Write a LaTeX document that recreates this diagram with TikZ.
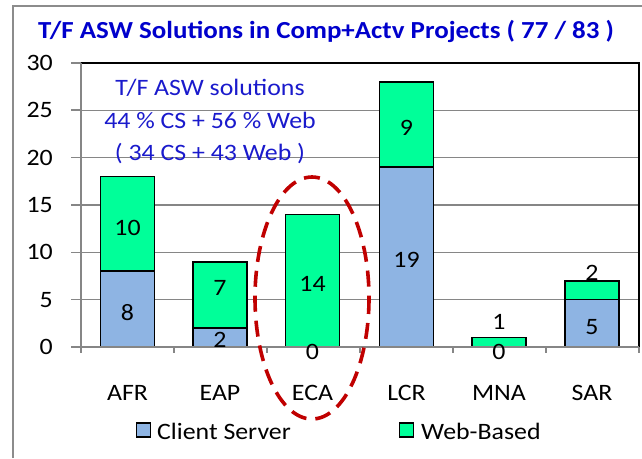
\documentclass[tikz,border=0pt]{standalone}
\usepackage{fontspec}
\setmainfont{Carlito}[FakeStretch=1.10]
\definecolor{csblue}{HTML}{8EB4E3}
\definecolor{webgreen}{HTML}{00FF99}
\definecolor{axisgray}{HTML}{868686}
\definecolor{framegray}{HTML}{8C8C8C}
\definecolor{titleblue}{HTML}{0000CC}
\definecolor{notblue}{HTML}{1A1ACC}
\definecolor{dashred}{HTML}{C00000}
\begin{document}
\begin{tikzpicture}[x=1pt,y=-1pt,
  lbl/.style={font=\fontsize{23.5}{28}\selectfont, inner sep=0pt, text=black},
  notetext/.style={font=\fontsize{23.5}{28}\selectfont, inner sep=0pt, text=notblue, anchor=base},
  titletext/.style={font=\fontsize{24.5}{29}\selectfont\bfseries, inner sep=0pt, text=titleblue, anchor=base},
  grid line/.style={draw=axisgray, line width=1.4pt},
  axis line/.style={draw=axisgray, line width=1.6pt},
  csbar/.style={fill=csblue, draw=black, line width=1.6pt},
  webbar/.style={fill=webgreen, draw=black, line width=1.6pt},
  legbox/.style={draw=black, line width=1.3pt, minimum width=14pt, minimum height=14pt, inner sep=0pt},
  ring/.style={draw=dashred, line width=3.6pt, dash pattern=on 16pt off 9pt}
]
\useasboundingbox (0,0) rectangle (642,458);
\fill[white] (0,0) rectangle (642,458);
% outer chart border
\draw[framegray, line width=1.5pt] (13,458) -- (13,6) -- (642,6);
% title
\node[titletext] (title) at (326,38) {T/F ASW Solutions in Comp+Actv Projects ( 77 / 83 )};
% gridlines
\foreach \v in {5,10,...,25} {
  \draw[grid line] (81,{347-9.47*\v}) -- (639,{347-9.47*\v});
}
% plot frame top/right
\draw[black, line width=1.5pt] (81,63) -- (639,63) -- (639,347);
% bars
\foreach \c/\cs/\w in {127.5/8/10, 220/2/7, 312.5/0/14, 406.5/19/9, 499/0/1, 592/5/2} {
  \ifnum\cs>0
    \draw[csbar] (\c-27,347) rectangle (\c+27,{347-9.47*\cs});
  \fi
  \draw[webbar] (\c-27,{347-9.47*\cs}) rectangle (\c+27,{347-9.47*(\cs+\w)});
}
% axes
\draw[axis line] (81,63) -- (81,353);
\draw[axis line] (71,347) -- (639,347);
\foreach \v in {0,5,...,30} {
  \draw[axis line] (71,{347-9.47*\v}) -- (81,{347-9.47*\v});
  \node[lbl, anchor=east] (y\v) at (53,{347-9.47*\v}) {\v};
}
\foreach \k in {1,...,6} {
  \draw[axis line] ({81+93*\k},347) -- ({81+93*\k},353);
}
% category labels
\node[lbl] (cAFR) at (127.5,393) {AFR};
\node[lbl] (cEAP) at (220,393) {EAP};
\node[lbl] (cECA) at (312.5,393) {ECA};
\node[lbl] (cLCR) at (406.5,393) {LCR};
\node[lbl] (cMNA) at (499,393) {MNA};
\node[lbl] (cSAR) at (592,393) {SAR};
% value labels
\node[lbl] (vAFRcs) at (127.5,313) {8};
\node[lbl] (vAFRweb) at (127.5,228) {10};
\node[lbl] (vEAPcs) at (220,340) {2};
\node[lbl] (vEAPweb) at (220,288) {7};
\node[lbl] (vECAcs) at (312.5,352) {0};
\node[lbl] (vECAweb) at (312.5,284) {14};
\node[lbl] (vLCRcs) at (406.5,260) {19};
\node[lbl] (vLCRweb) at (406.5,128) {9};
\node[lbl] (vMNAcs) at (499,352) {0};
\node[lbl] (vMNAweb) at (499,322) {1};
\node[lbl] (vSARcs) at (592,327) {5};
\node[lbl] (vSARweb) at (592,273) {2};
% annotation
\node[notetext] (note1) at (210,95) {T/F ASW solutions};
\node[notetext] (note2) at (210,128) {44 \% CS + 56 \% Web};
\node[notetext] (note3) at (210,160) {( 34 CS + 43 Web )};
% legend
\node[legbox, fill=csblue] (legcs) at (143.5,430) {};
\node[lbl, anchor=base west] (legcstext) at (157,439) {Client Server};
\node[legbox, fill=webgreen] (legweb) at (406.5,430) {};
\node[lbl, anchor=base west] (legwebtext) at (421,439) {Web-Based};
% highlight ellipse
\draw[ring] (312,298) ellipse [x radius=57, y radius=121];
\end{tikzpicture}
\end{document}
